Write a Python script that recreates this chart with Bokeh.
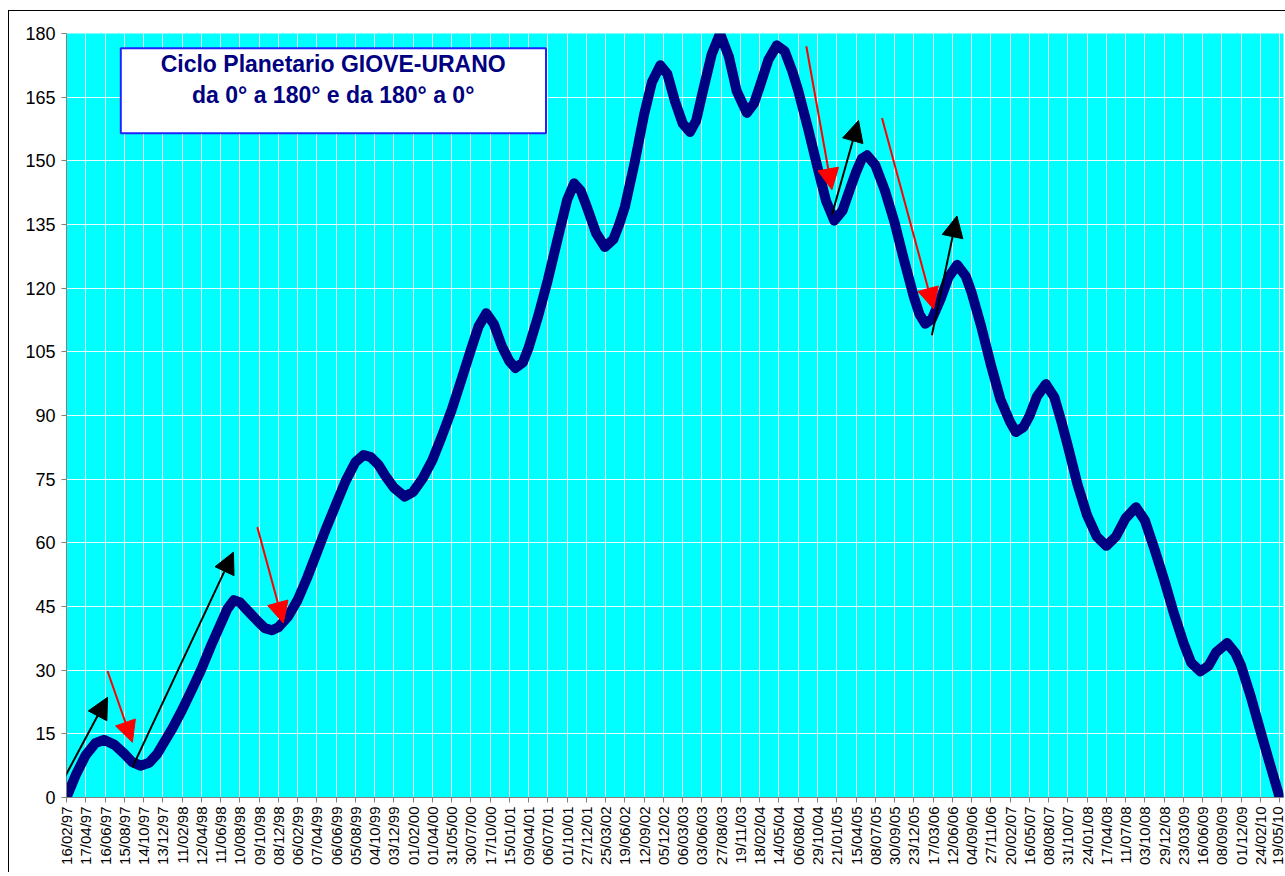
import math
from bokeh.plotting import figure
from bokeh.models import (FixedTicker, Arrow, NormalHead, BoxAnnotation, Label,
                          ColumnDataSource, Range1d)
from bokeh.embed import file_html
from bokeh.resources import INLINE

# ---------------- data ----------------
date_labels = [
    "16/02/97", "17/04/97", "16/06/97", "15/08/97", "14/10/97", "13/12/97",
    "11/02/98", "12/04/98", "11/06/98", "10/08/98", "09/10/98", "08/12/98",
    "06/02/99", "07/04/99", "06/06/99", "05/08/99", "04/10/99", "03/12/99",
    "01/02/00", "01/04/00", "31/05/00", "30/07/00", "17/10/00", "15/01/01",
    "09/04/01", "06/07/01", "01/10/01", "27/12/01", "25/03/02", "19/06/02",
    "12/09/02", "05/12/02", "06/03/03", "03/06/03", "27/08/03", "19/11/03",
    "18/02/04", "14/05/04", "06/08/04", "29/10/04", "21/01/05", "15/04/05",
    "08/07/05", "30/09/05", "23/12/05", "17/03/06", "12/06/06", "04/09/06",
    "27/11/06", "20/02/07", "16/05/07", "08/08/07", "31/10/07", "24/01/08",
    "17/04/08", "11/07/08", "03/10/08", "29/12/08", "23/03/09", "16/06/09",
    "08/09/09", "01/12/09", "24/02/10", "19/05/10",
]
y_ticks = [0, 15, 30, 45, 60, 75, 90, 105, 120, 135, 150, 165, 180]

# position along the category axis (0 = first date) and angle in degrees
curve_pos = [0, 0.5, 1, 1.5, 1.94, 2.5, 3, 3.4, 3.84, 4.3, 4.7, 5, 5.5, 6, 6.5,
             7, 7.5, 8, 8.35, 8.69, 9, 9.5, 10, 10.3, 10.67, 11, 11.5, 12, 12.5,
             13, 13.5, 14, 14.5, 15, 15.43, 15.8, 16.2, 16.6, 17, 17.56, 18,
             18.5, 19, 19.5, 20, 20.5, 21, 21.4, 21.8, 22.2, 22.6, 23, 23.31,
             23.7, 24, 24.5, 25, 25.5, 26, 26.36, 26.7, 27, 27.5, 27.96, 28.4,
             28.7, 29, 29.5, 30, 30.4, 30.84, 31.2, 31.6, 32, 32.38, 32.7, 33,
             33.5, 33.94, 34.4, 34.8, 35.33, 35.7, 36, 36.45, 36.89, 37.3, 37.7,
             38, 38.5, 39, 39.45, 39.87, 40.3, 40.7, 41, 41.3, 41.57, 42, 42.5,
             43, 43.5, 44, 44.3, 44.6, 44.95, 45.4, 45.8, 46.25, 46.7, 47, 47.5,
             48, 48.5, 49, 49.3, 49.7, 50, 50.4, 50.86, 51.3, 51.7, 52, 52.5, 53,
             53.5, 54, 54.5, 55, 55.54, 56, 56.5, 57, 57.5, 58, 58.4, 58.88,
             59.3, 59.7, 60.27, 60.7, 61, 61.5, 62, 62.5, 63]
curve_deg = [0.0, 5.5, 10.0, 12.8, 13.6, 12.4, 10.3, 8.4, 7.5, 8.2, 10.2, 12.5,
             16.3, 20.6, 25.3, 30.2, 35.7, 40.8, 44.4, 46.5, 46.0, 43.6, 41.2,
             39.9, 39.4, 40.1, 42.6, 46.5, 51.8, 57.7, 63.6, 69.1, 74.6, 79.0,
             80.7, 80.2, 78.4, 75.5, 73.0, 70.9, 72.0, 75.2, 79.5, 85.2, 91.3,
             98.3, 105.5, 111.0, 114.1, 111.5, 106.4, 102.8, 101.2, 102.5,
             106.0, 113.5, 122.0, 131.5, 140.8, 144.7, 143.0, 139.4, 133.0,
             129.7, 131.5, 135.0, 139.2, 149.5, 161.0, 168.5, 172.5, 170.5,
             164.0, 158.8, 156.8, 159.5, 165.5, 175.0, 180.0, 174.5, 166.5,
             161.3, 163.5, 167.5, 173.8, 177.2, 175.8, 171.0, 166.5, 157.8,
             148.5, 140.5, 135.9, 138.3, 143.5, 147.3, 150.5, 151.3, 149.0,
             143.0, 135.5, 126.5, 118.0, 113.8, 111.6, 112.8, 117.5, 122.5,
             125.5, 122.8, 119.0, 111.0, 102.0, 93.8, 88.5, 86.1, 87.3, 89.8,
             94.5, 97.4, 94.3, 88.0, 82.8, 73.8, 66.5, 61.5, 59.3, 61.5, 65.8,
             68.4, 65.3, 58.5, 51.3, 43.5, 36.5, 31.8, 29.7, 31.0, 34.2, 36.4,
             34.0, 31.0, 23.8, 15.7, 7.8, 0.0]

# arrows (category position, degrees)
black_arrow_x0 = [-0.47, 3.42, 39.75, 44.94]
black_arrow_y0 = [1.6, 7.1, 137.3, 108.9]
black_arrow_x1 = [2.13, 8.67, 41.13, 46.24]
black_arrow_y1 = [23.6, 57.8, 159.5, 137.0]
red_arrow_x0 = [2.13, 9.91, 38.42, 42.35]
red_arrow_y0 = [29.8, 63.7, 177.0, 160.1]
red_arrow_x1 = [3.42, 11.26, 39.75, 45.03]
red_arrow_y1 = [13.0, 41.1, 143.2, 115.1]

title_lines = ["Ciclo Planetario GIOVE-URANO", "da 0\u00b0 a 180\u00b0 e da 180\u00b0 a 0\u00b0"]

# ---------------- figure ----------------
FONT = "Liberation Sans"
p = figure(width=1285, height=872, output_backend="svg", toolbar_location=None,
           x_range=Range1d(0, 63.2), y_range=Range1d(0, 180),
           min_border_left=66, min_border_right=2, min_border_top=33,
           min_border_bottom=75)
p.background_fill_color = "#00FFFF"
p.border_fill_color = None
p.outline_line_color = None
# thin outer chart border (left and top edges) drawn behind the transparent canvas
p.styles = {
    "background-color": "white",
    "background-image": "linear-gradient(#000, #000), linear-gradient(#000, #000)",
    "background-position": "8px 10px, 8px 10px",
    "background-size": "1px 100%, 100% 1px",
    "background-repeat": "no-repeat, no-repeat",
}

# grid
p.xgrid.ticker = FixedTicker(ticks=list(range(len(date_labels))))
p.ygrid.ticker = FixedTicker(ticks=y_ticks)
for g in (p.xgrid, p.ygrid):
    g.grid_line_color = "white"
    g.grid_line_width = 1
    g.grid_line_alpha = 0.9

# axes
xa = p.xaxis[0]
xa.ticker = FixedTicker(ticks=list(range(len(date_labels))))
xa.major_label_overrides = {i: lab for i, lab in enumerate(date_labels)}
xa.major_label_orientation = math.pi / 2
xa.major_label_text_font = FONT
xa.major_label_text_font_size = "15px"
xa.major_label_text_color = "black"
xa.major_label_standoff = 4
ya = p.yaxis[0]
ya.ticker = FixedTicker(ticks=y_ticks)
ya.major_label_text_font = FONT
ya.major_label_text_font_size = "18px"
ya.major_label_text_color = "black"
ya.major_label_standoff = 6
for ax in (xa, ya):
    ax.axis_line_color = "#808080"
    ax.major_tick_line_color = "#808080"
    ax.major_tick_out = 5
    ax.major_tick_in = 0
    ax.minor_tick_line_color = None

# main curve
src = ColumnDataSource(dict(x=curve_pos, y=curve_deg))
p.line("x", "y", source=src, line_color="#000080", line_width=10,
       line_join="round", line_cap="round")

# arrows
bsrc = ColumnDataSource(dict(x0=black_arrow_x0, y0=black_arrow_y0,
                             x1=black_arrow_x1, y1=black_arrow_y1))
rsrc = ColumnDataSource(dict(x0=red_arrow_x0, y0=red_arrow_y0,
                             x1=red_arrow_x1, y1=red_arrow_y1))
p.add_layout(Arrow(end=NormalHead(size=21, fill_color="black", line_color="black"),
                   x_start="x0", y_start="y0", x_end="x1", y_end="y1",
                   source=bsrc, line_color="black", line_width=2))
p.add_layout(Arrow(end=NormalHead(size=21, fill_color="red", line_color="red"),
                   x_start="x0", y_start="y0", x_end="x1", y_end="y1",
                   source=rsrc, line_color="red", line_width=2))

# title box
p.add_layout(BoxAnnotation(left=2.82, right=24.9, top=176.5, bottom=156.5,
                           fill_color="white", fill_alpha=1,
                           line_color="#2222FF", line_alpha=1, line_width=2))
p.add_layout(Label(x=13.85, y=172.7, text=title_lines[0], text_align="center",
                   text_baseline="middle", text_font=FONT, text_font_size="23px",
                   text_font_style="bold", text_color="#000080"))
p.add_layout(Label(x=13.85, y=165.6, text=title_lines[1], text_align="center",
                   text_baseline="middle", text_font=FONT, text_font_size="23px",
                   text_font_style="bold", text_color="#000080"))

open("out.html", "w").write(file_html(p, INLINE))
